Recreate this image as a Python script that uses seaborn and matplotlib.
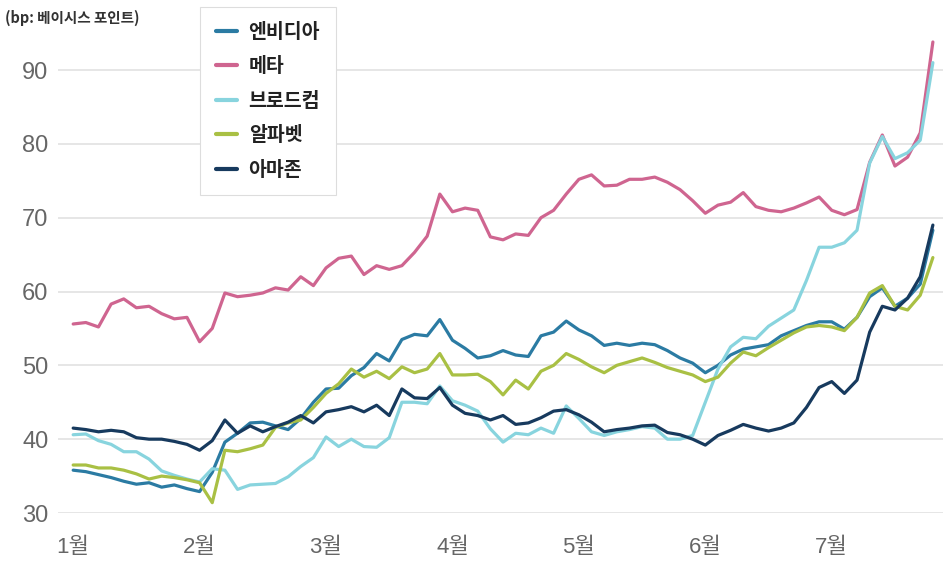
import numpy as np
import pandas as pd
import matplotlib.pyplot as plt
import seaborn as sns

months = ['1월', '2월', '3월', '4월', '5월', '6월', '7월']
companies = ['엔비디아', '메타', '브로드컴', '알파벳', '아마존']
colors = ['#2b7ba3', '#cf6590', '#88d4de', '#a9c044', '#173a5e']

# one reading every tenth of a month, from early Jan to late Jul
month_pos = np.round(np.arange(69) * 0.1, 1)

nvidia = [35.8, 35.6, 35.2, 34.8, 34.3, 33.9, 34.1, 33.5, 33.8, 33.3,
          32.9, 35.5, 39.6, 40.8, 42.2, 42.3, 41.8, 41.3, 42.8, 45.0,
          46.8, 46.9, 48.6, 49.7, 51.6, 50.6, 53.5, 54.2, 54.0, 56.2,
          53.4, 52.3, 51.0, 51.3, 52.0, 51.4, 51.2, 54.0, 54.5, 56.0,
          54.8, 54.0, 52.7, 53.0, 52.7, 53.0, 52.8, 52.0, 51.0, 50.3,
          49.0, 50.0, 51.4, 52.2, 52.5, 52.8, 54.0, 54.7, 55.4, 55.9,
          55.9, 54.9, 56.5, 59.3, 60.5, 58.0, 59.1, 61.0, 68.3]
meta = [55.6, 55.8, 55.2, 58.3, 59.0, 57.8, 58.0, 57.0, 56.3, 56.5,
        53.2, 55.0, 59.8, 59.3, 59.5, 59.8, 60.5, 60.2, 62.0, 60.8,
        63.2, 64.5, 64.8, 62.3, 63.5, 63.0, 63.5, 65.3, 67.5, 73.2,
        70.8, 71.3, 71.0, 67.4, 67.0, 67.8, 67.6, 70.0, 71.0, 73.2,
        75.2, 75.8, 74.3, 74.4, 75.2, 75.2, 75.5, 74.8, 73.8, 72.3,
        70.6, 71.7, 72.1, 73.4, 71.5, 71.0, 70.8, 71.3, 72.0, 72.8,
        71.0, 70.4, 71.1, 77.5, 81.2, 77.0, 78.2, 81.5, 93.8]
broadcom = [40.6, 40.7, 39.8, 39.3, 38.3, 38.3, 37.3, 35.7, 35.1, 34.6,
            34.2, 36.0, 35.8, 33.2, 33.8, 33.9, 34.0, 34.9, 36.3, 37.5,
            40.3, 39.0, 40.0, 39.0, 38.9, 40.2, 45.0, 45.0, 44.8, 47.2,
            45.2, 44.6, 43.8, 41.4, 39.6, 40.8, 40.6, 41.5, 40.8, 44.5,
            42.8, 41.0, 40.5, 41.0, 41.3, 41.7, 41.5, 40.0, 40.0, 40.5,
            45.0, 49.5, 52.5, 53.8, 53.6, 55.3, 56.4, 57.5, 61.5, 66.0,
            66.0, 66.6, 68.3, 77.4, 81.0, 78.0, 78.8, 80.5, 91.0]
alphabet = [36.5, 36.5, 36.1, 36.1, 35.8, 35.3, 34.6, 35.0, 34.8, 34.5,
            34.1, 31.4, 38.5, 38.3, 38.7, 39.2, 41.6, 42.2, 42.6, 44.3,
            46.2, 47.5, 49.5, 48.4, 49.2, 48.2, 49.8, 49.0, 49.5, 51.6,
            48.7, 48.7, 48.8, 47.8, 46.0, 48.0, 46.8, 49.2, 50.0, 51.6,
            50.8, 49.8, 49.0, 50.0, 50.5, 51.0, 50.4, 49.7, 49.2, 48.7,
            47.8, 48.4, 50.3, 51.8, 51.3, 52.4, 53.4, 54.4, 55.2, 55.4,
            55.2, 54.7, 56.5, 59.8, 60.8, 58.0, 57.5, 59.5, 64.6]
amazon = [41.5, 41.3, 41.0, 41.2, 41.0, 40.2, 40.0, 40.0, 39.7, 39.3,
          38.5, 39.8, 42.6, 40.8, 41.8, 41.0, 41.7, 42.3, 43.2, 42.2,
          43.7, 44.0, 44.4, 43.7, 44.6, 43.2, 46.8, 45.6, 45.5, 47.0,
          44.6, 43.5, 43.2, 42.6, 43.2, 42.0, 42.2, 42.9, 43.8, 44.0,
          43.3, 42.3, 41.0, 41.3, 41.5, 41.8, 41.9, 40.9, 40.6, 40.0,
          39.2, 40.5, 41.2, 42.0, 41.5, 41.1, 41.5, 42.2, 44.3, 47.0,
          47.8, 46.2, 48.0, 54.5, 58.0, 57.5, 59.1, 62.0, 69.0]

yticks = [30, 40, 50, 60, 70, 80, 90]

series = dict(zip(companies, [nvidia, meta, broadcom, alphabet, amazon]))
frames = []
for name, vals in series.items():
    frames.append(pd.DataFrame({'month': month_pos, 'bp': vals, 'company': name}))
df = pd.concat(frames, ignore_index=True)

sns.set_theme(style='white')
plt.rcParams['font.family'] = ['Noto Sans CJK KR', 'DejaVu Sans']

fig = plt.figure(figsize=(9.47, 5.74), dpi=100)
ax = fig.add_axes([58 / 947, 1 - 513 / 574, 885 / 947, 488 / 574])

sns.lineplot(data=df, x='month', y='bp', hue='company', hue_order=companies,
             palette=colors, linewidth=2.3, ax=ax)

ax.set_xlim(-0.12, 6.88)
ax.set_ylim(30, 96.1)
ax.set_yticks(yticks)
ax.set_xticks(range(len(months)))
ax.set_xticklabels(months)
ax.set_xlabel('')
ax.set_ylabel('')
for s in ax.spines.values():
    s.set_visible(False)
ax.grid(axis='y', color='#e6e6e6', linewidth=1.4)
ax.grid(axis='x', visible=False)
ax.tick_params(axis='y', length=0, pad=7, labelcolor='#666666')
ax.tick_params(axis='x', length=8, width=1, color='#e2e2e2', pad=9,
               labelcolor='#666666', direction='out')
for lab in ax.get_yticklabels():
    lab.set_family(['Liberation Sans Narrow', 'Liberation Sans', 'DejaVu Sans'])
    lab.set_fontsize(17)
for lab in ax.get_xticklabels():
    lab.set_family(['Liberation Sans Narrow', 'Liberation Sans', 'Noto Sans CJK KR'])
    lab.set_fontsize(16)

handles, labels = ax.get_legend_handles_labels()
for h in handles:
    h.set_linewidth(3)
leg = ax.legend(handles, labels, loc='upper left',
                bbox_to_anchor=(200 / 947, 1 - 7 / 574), bbox_transform=fig.transFigure,
                frameon=True, fancybox=False, framealpha=1, edgecolor='#dddddd',
                prop={'family': 'Noto Sans CJK KR', 'size': 14, 'weight': 'bold'},
                handlelength=1.1, handletextpad=0.6, labelspacing=0.8,
                borderpad=0.8, borderaxespad=0)
leg.get_frame().set_linewidth(0.8)
for t in leg.get_texts():
    t.set_color('#222222')

fig.text(5 / 947, 1 - 18 / 574, '(bp: 베이시스 포인트)', fontsize=10.5,
         fontweight='bold', color='#333333', va='center', ha='left')

fig.savefig('out.png', dpi=100)
